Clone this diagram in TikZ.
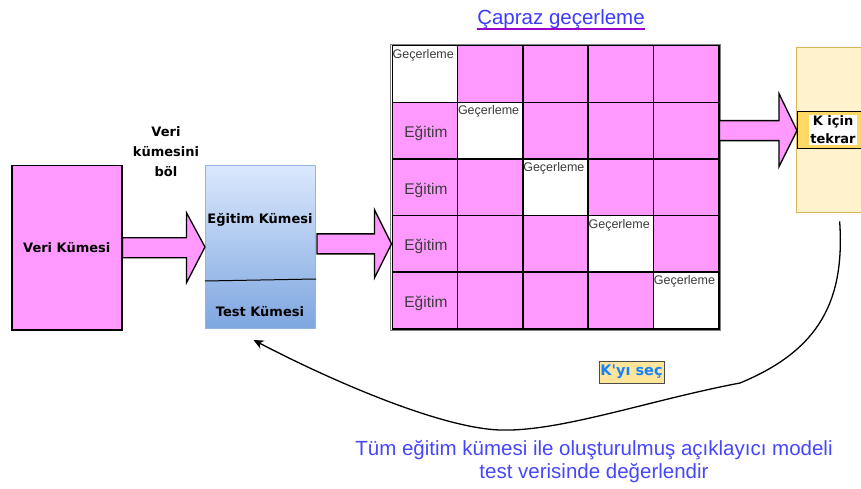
\documentclass[tikz,border=0pt]{standalone}
\usepackage{fontspec}
\setmainfont{Liberation Sans}
\newfontfamily\dvs{DejaVu Sans}
\usetikzlibrary{arrows.meta,calc}
\definecolor{pinkfill}{RGB}{255,153,255}
\definecolor{bluetop}{RGB}{218,232,252}
\definecolor{bluebot}{RGB}{126,166,224}
\definecolor{bluebd}{RGB}{150,180,225}
\definecolor{yfill}{RGB}{255,242,204}
\definecolor{ybd}{RGB}{214,182,86}
\definecolor{kfill}{RGB}{255,217,102}
\definecolor{kysfill}{RGB}{255,229,153}
\definecolor{kysblue}{RGB}{20,130,255}
\definecolor{titleblue}{RGB}{60,60,255}
\definecolor{ulpurple}{RGB}{153,0,204}
\definecolor{botblue}{RGB}{70,70,255}
\definecolor{gtext}{RGB}{60,60,60}
\tikzset{
  boldlbl/.style={font=\dvs\bfseries\fontsize{13}{20}\selectfont, inner sep=0pt},
  blockarrow/.style={draw=black, line width=1.3pt, fill=pinkfill, line join=miter},
  cell/.style={draw=black, line width=1.5pt, minimum width=65.3pt, minimum height=56.6pt, anchor=north west, inner sep=0pt},
  gectext/.style={font=\fontsize{12.5}{14}\selectfont, text=gtext, anchor=north west, inner sep=1pt},
  egtext/.style={font=\fontsize{15.5}{17}\selectfont, text=gtext, inner sep=0pt}
}
\begin{document}
\begin{tikzpicture}[x=1pt,y=-1pt]
\useasboundingbox (0,0) rectangle (861,489);
\clip (0,0) rectangle (861,489);

% data set
\node[draw=black, line width=1.5pt, fill=pinkfill, minimum width=110pt, minimum height=164pt, anchor=north west, boldlbl] (veri) at (11,165) {Veri Kümesi};

% split label
\node[boldlbl, align=center] (split) at (166,152) {Veri\\kümesini\\böl};

% train / test box
\node[draw=bluebd, line width=1pt, top color=bluetop, bottom color=bluebot, minimum width=110pt, minimum height=163pt, anchor=north west] (set) at (205,165) {};
\draw[line width=1pt] ($(set.north west)+(0,116)$) -- ($(set.north east)+(0,114)$);
\node[boldlbl] (egk) at (260,220) {Eğitim Kümesi};
\node[boldlbl] (tsk) at (260,312) {Test Kümesi};

% arrow 1
\draw[blockarrow] ($(veri.east)+(0,-10)$) -- ($(veri.east)+(64,-10)$) -- ($(veri.east)+(64,-35)$) -- (set.west) -- ($(veri.east)+(64,35)$) -- ($(veri.east)+(64,10)$) -- ($(veri.east)+(0,10)$) -- cycle;

% grid
\foreach \r in {1,...,5}{
  \foreach \c in {1,...,5}{
    \ifnum\r=\c \def\cf{white}\else\def\cf{pinkfill}\fi
    \node[cell, fill=\cf] (c\r\c) at ({391.5+(\c-1)*65.3},{45+(\r-1)*56.6}) {};
  }
}
\draw[gray, line width=0.8pt] ($(c11.north west)+(-1,-1)$) rectangle ($(c55.south east)+(1,1)$);
\foreach \i in {1,...,5}{
  \node[gectext] (g\i) at ($(c\i\i.north west)+(0,3)$) {Geçerleme};
}
\foreach \r in {2,...,5}{
  \node[egtext] (e\r) at ($(c\r1.center)+(1,3)$) {Eğitim};
}

% title
\node[font=\fontsize{20.5}{24}\selectfont, text=titleblue, anchor=base, inner sep=0pt] (title) at (561,25) {Çapraz geçerleme};
\draw[ulpurple, line width=1.4pt] ($(title.base west)+(0,4)$) -- ($(title.base east)+(0,4)$);

% arrow 2
\coordinate (a2s) at (set.east |- c41.west);
\draw[blockarrow] ($(a2s)+(1,-10)$) -- ($(c41.west)+(-17,-10)$) -- ($(c41.west)+(-17,-34)$) -- (c41.west) -- ($(c41.west)+(-17,34)$) -- ($(c41.west)+(-17,10)$) -- ($(a2s)+(1,10)$) -- cycle;

% yellow outer box
\node[draw=ybd, line width=1.3pt, fill=yfill, minimum width=80pt, minimum height=165pt, anchor=north west] (outer) at (796,47) {};
\node[draw=black, line width=1pt, fill=kfill, minimum width=72pt, minimum height=37pt, anchor=north west] (kbox) at (797,111) {};
\node[align=center, fill=white, inner sep=1pt, font=\dvs\bfseries\fontsize{13}{18}\selectfont] (ktxt) at (833,130) {K için\\tekrar};

% arrow 3
\coordinate (a3e) at (kbox.west |- c25.east);
\draw[blockarrow] ($(c25.east)+(0,-10)$) -- ($(a3e)+(-18,-10)$) -- ($(a3e)+(-18,-37)$) -- (a3e) -- ($(a3e)+(-18,36)$) -- ($(a3e)+(-18,10)$) -- ($(c25.east)+(0,10)$) -- cycle;

% return curve
\coordinate (cs) at ($(outer.south)+(3,8)$);
\coordinate (cm1) at (740,383);
\coordinate (cm2) at (500,430);
\coordinate (ce) at ($(set.south)+(-7,11)$);
\draw[line width=1.3pt, -{Stealth[length=10pt,width=9pt,inset=3pt]}] (cs) .. controls (845,300) and (820,350) .. (cm1) .. controls (650,400) and (560,432) .. (cm2) .. controls (440,428) and (330,380) .. (ce);

% K'yı seç
\node[draw=gray!60!black, line width=0.8pt, fill=kysfill, text=kysblue, font=\dvs\bfseries\fontsize{14.5}{16}\selectfont, minimum width=65pt, minimum height=22pt, inner sep=1pt] (kys) at (631.5,372) {K\textquotesingle yı seç};

% bottom text
\node[text=botblue, align=center, font=\fontsize{20.5}{23}\selectfont, inner sep=0pt] (bottom) at (594,462) {Tüm eğitim kümesi ile oluşturulmuş açıklayıcı modeli\\test verisinde değerlendir};
\end{tikzpicture}
\end{document}
